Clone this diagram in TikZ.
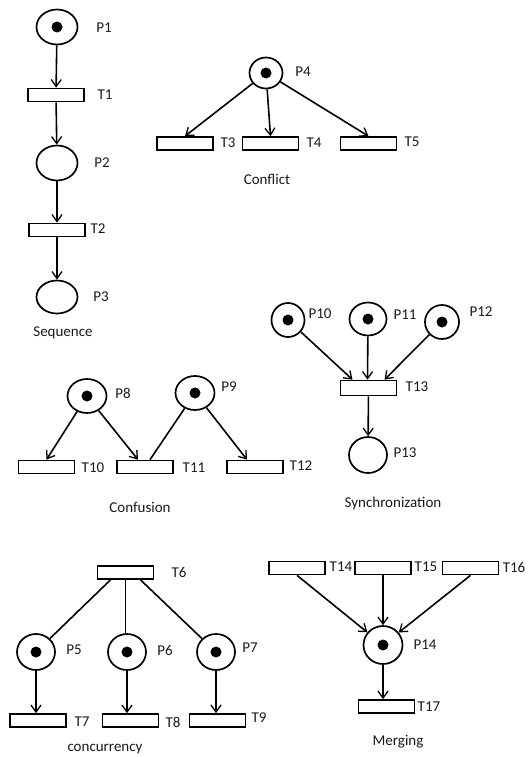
\documentclass[tikz,border=0pt]{standalone}
\usepackage{fontspec}
\setmainfont{Carlito}
\usetikzlibrary{shapes.geometric,arrows.meta}
\begin{document}
\begin{tikzpicture}[x=1pt,y=-1pt,
  every node/.style={font=\fontsize{15}{17}\selectfont, text=black!90},
  place/.style={draw, ellipse, line width=1.7pt, inner sep=0pt, minimum width=38pt, minimum height=35pt},
  tok/.style={path picture={\fill[black] (path picture bounding box.center) circle (5.5pt);}},
  trans/.style={draw, rectangle, line width=1.7pt, inner sep=0pt, minimum width=56pt, minimum height=13pt, fill=white},
  lab/.style={inner sep=0pt},
  arc/.style={line width=1.6pt, -{Straight Barb[length=7pt,width=10pt,line width=1.3pt]}},
  plain/.style={line width=1.6pt}]
\useasboundingbox (0,0) rectangle (527,757);
% Sequence
\node[place,tok,minimum width=41pt] (P1) at (57,27) {};
\node[trans] (T1) at (56,95) {};
\node[place,minimum width=41pt] (P2) at (57,163) {};
\node[trans] (T2) at (57,230) {};
\node[place,minimum width=41pt,minimum height=33pt] (P3) at (57,297) {};
\node[lab] (lP1) at (104,28) {P1};
\node[lab] (lT1) at (105,95) {T1};
\node[lab] (lP2) at (102,163) {P2};
\node[lab] (lT2) at (98,229) {T2};
\node[lab] (lP3) at (101,297) {P3};
\node[lab] (cSeq) at (63,333) {Sequence};
\draw[arc] (P1) -- (T1);
\draw[arc] (T1) -- (P2);
\draw[arc] (P2) -- (T2);
\draw[arc] (T2) -- (P3);
% Conflict
\node[place,tok,minimum width=33pt,minimum height=31pt] (P4) at (266,73) {};
\node[trans] (T3) at (185,143.5) {};
\node[trans] (T4) at (270.5,143.5) {};
\node[trans] (T5) at (368.5,143.5) {};
\node[lab] (lP4) at (303,72) {P4};
\node[lab] (lT3) at (228,143) {T3};
\node[lab] (lT4) at (314,143) {T4};
\node[lab] (lT5) at (412,142) {T5};
\node[lab] (cCon) at (267,179) {Conflict};
\draw[arc] (P4) -- (T3.north);
\draw[arc] (P4) -- (T4.north);
\draw[arc] (P4) -- (T5.north);
% Synchronization
\node[place,tok,minimum width=33pt,minimum height=34pt] (P10) at (288,320) {};
\node[place,tok,minimum width=37pt,minimum height=33pt] (P11) at (368,319) {};
\node[place,tok,minimum width=34pt,minimum height=34pt] (P12) at (442,322) {};
\node[trans,minimum height=15pt] (T13) at (368.5,388) {};
\node[place,minimum width=38pt,minimum height=36pt] (P13) at (368,455) {};
\node[lab] (lP10) at (320,314) {P10};
\node[lab] (lP11) at (405,315) {P11};
\node[lab] (lP12) at (481,312) {P12};
\node[lab] (lT13) at (417,387) {T13};
\node[lab] (lP13) at (405,453) {P13};
\node[lab] (cSyn) at (393,503) {Synchronization};
\draw[arc] (P10) -- ([xshift=-16pt]T13.north);
\draw[arc] (P11) -- ([xshift=-1pt]T13.north);
\draw[arc] (P12) -- ([xshift=16pt]T13.north);
\draw[arc] (T13) -- (P13);
% Confusion
\node[place,tok,minimum width=39pt,minimum height=34pt] (P8) at (87,396) {};
\node[place,tok,minimum width=39pt,minimum height=34pt] (P9) at (195,393) {};
\node[trans] (T10) at (46.5,467) {};
\node[trans] (T11) at (145,467) {};
\node[trans] (T12) at (255,467) {};
\node[lab] (lP8) at (123,393) {P8};
\node[lab] (lP9) at (229,387) {P9};
\node[lab] (lT10) at (93,468) {T10};
\node[lab] (lT11) at (194,468) {T11};
\node[lab] (lT12) at (301,466) {T12};
\node[lab] (cConf) at (140,507) {Confusion};
\draw[arc] (P8) -- (T10.north);
\draw[arc] (P8) -- ([xshift=-7pt]T11.north);
\draw[plain] (P9) -- ([xshift=5pt]T11.north);
\draw[arc] (P9) -- ([xshift=-8pt]T12.north);
% Concurrency
\node[trans] (T6) at (125.5,572.5) {};
\node[place,tok,minimum width=38pt,minimum height=36pt] (P5) at (36,652) {};
\node[place,tok,minimum width=38pt,minimum height=36pt] (P6) at (127,652) {};
\node[place,tok,minimum width=38pt,minimum height=36pt] (P7) at (216,652) {};
\node[trans] (T7) at (38,720.5) {};
\node[trans] (T8) at (130.5,720.5) {};
\node[trans] (T9) at (217.5,720.5) {};
\node[lab] (lT6) at (179,572) {T6};
\node[lab] (lP5) at (74,650) {P5};
\node[lab] (lP6) at (165,650) {P6};
\node[lab] (lP7) at (250,648) {P7};
\node[lab] (lT7) at (82,722) {T7};
\node[lab] (lT8) at (173,722) {T8};
\node[lab] (lT9) at (259,718) {T9};
\node[lab] (cCur) at (105,749) {concurrency};
\draw[plain] ([xshift=-15pt]T6.south) -- (P5);
\draw[plain] (T6.south) -- (P6.north -| T6.south);
\draw[plain] ([xshift=15pt]T6.south) -- (P7);
\draw[arc] (P5) -- (P5 |- T7.north);
\draw[arc] (P6) -- (P6 |- T8.north);
\draw[arc] (P7) -- (P7 |- T9.north);
% Merging
\node[trans] (T14) at (297,568) {};
\node[trans] (T15) at (383,568) {};
\node[trans] (T16) at (470.5,568) {};
\node[place,tok,minimum width=39pt,minimum height=38pt] (P14) at (383,645) {};
\node[trans] (T17) at (386.5,706.5) {};
\node[lab] (lT14) at (341,567) {T14};
\node[lab] (lT15) at (426,567) {T15};
\node[lab] (lT16) at (514,567) {T16};
\node[lab] (lP14) at (425,645) {P14};
\node[lab] (lT17) at (429,707) {T17};
\node[lab] (cMer) at (398,742) {Merging};
\draw[arc] (T14.south) -- (P14);
\draw[arc] (T15) -- (P14);
\draw[arc] (T16.south) -- (P14);
\draw[arc] (P14) -- (P14 |- T17.north);
\end{tikzpicture}
\end{document}
